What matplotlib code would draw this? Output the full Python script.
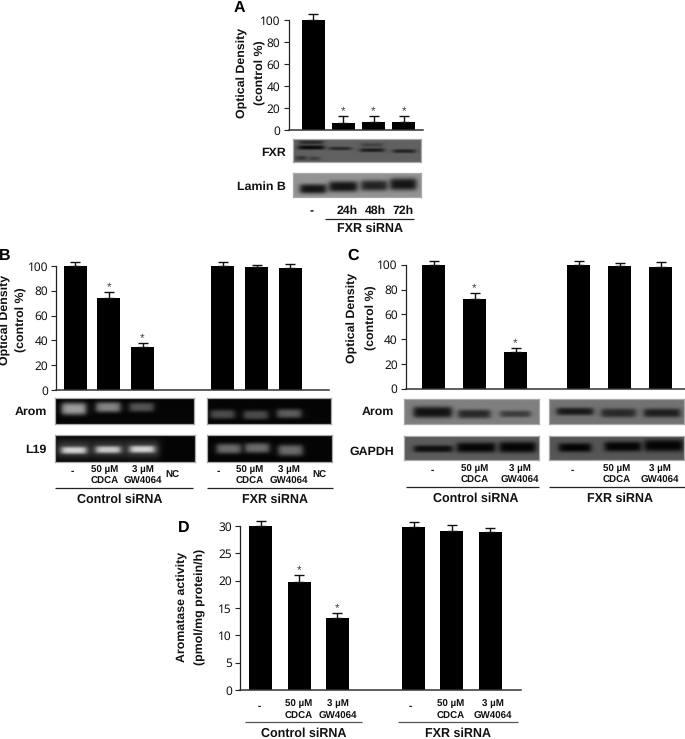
import matplotlib
matplotlib.use("Agg")
import matplotlib.pyplot as plt
import numpy as np

plt.rcParams['text.hinting'] = 'no_hinting'

W, H = 685, 739

# chart values
a_labels = ['-', '24h', '48h', '72h']
a_values = [100, 6.5, 7, 7.5]
a_errors = [5.5, 6.5, 6, 5.5]
a_stars = [False, True, True, True]

b_values = [100, 74, 35, 100, 99, 98]
b_errors = [3, 5, 3, 3, 2, 4]
b_stars = [False, True, True, False, False, False]

c_values = [100, 72, 30, 100, 99, 98]
c_errors = [3, 5, 3, 3, 2, 4]
c_stars = [False, True, True, False, False, False]

d_values = [30, 19.8, 13.2, 29.8, 29, 28.9]
d_errors = [1, 1.2, 0.9, 1, 1.2, 0.7]
d_stars = [False, True, True, False, False, False]

od_ticks = [0, 20, 40, 60, 80, 100]
d_ticks = [0, 5, 10, 15, 20, 25, 30]

# bands of the blots: centre x, centre y, half width, half height, grey level
fxr_bands = [(311, 147.7, 13, 1.6, 0.05), (311, 142.7, 12, 1.5, 0.17), (301, 158, 5, 1.6, 0.2),
             (314, 158.5, 5, 1.4, 0.24), (340, 148.7, 11, 1.2, 0.17), (372, 150.3, 12, 1.4, 0.12),
             (372, 145.3, 11, 1.5, 0.27), (404, 151.3, 11, 1.3, 0.14)]
lamin_bands = [(313, 189.3, 13, 4.2, 0.08), (343, 187, 14, 4.8, 0.08), (374, 186, 13, 4.8, 0.14), (403, 184.7, 13, 5.5, 0.08)]
b_arom1 = [(74, 409.3, 12, 5.5, 0.62), (108.3, 407.7, 12, 4.5, 0.52), (141.7, 407.7, 12, 4, 0.33)]
b_arom2 = [(222, 414, 12, 4, 0.3), (255, 414.7, 12, 4, 0.3), (288.3, 413.3, 12, 4, 0.36)]
b_l191 = [(74, 449, 17, 9, 0.22), (108.3, 449, 17, 9, 0.2), (142.3, 449, 17, 9, 0.22),
          (74, 450.3, 12, 3, 0.82), (108.3, 449.7, 12, 3, 0.78), (142.3, 449.3, 12, 3, 0.82)]
b_l192 = [(228.3, 448.7, 12, 4.5, 0.42), (256.7, 448, 12, 4.5, 0.42), (290, 450.3, 12, 5, 0.42)]
c_arom1 = [(432.7, 412, 19, 5, 0.07), (474, 413.7, 16, 3.8, 0.16), (515, 413.7, 15, 2.8, 0.24)]
c_arom2 = [(575, 411.3, 18, 3.2, 0.1), (618.3, 412.7, 17, 3.8, 0.16), (661.7, 412.7, 18, 3.8, 0.12)]
c_gapdh1 = [(433.3, 449.3, 19, 3, 0.06), (476, 448, 19, 4.5, 0.02), (517.3, 447.7, 18, 5, 0.02)]
c_gapdh2 = [(575, 448, 16, 4, 0.02), (622.7, 447, 18, 4.5, 0.02), (663.3, 446, 19, 5.5, 0.02)]


def px_axes(x0, y0, x1, y1):
    return fig.add_axes([x0 / W, 1 - y1 / H, (x1 - x0) / W, (y1 - y0) / H])


def bar_panel(spine_x, right_x, y_zero, y_full, full, top, x_first, step, group_gap, values, errors, stars, ticks):
    # group_gap is where the second group starts, in bar steps
    y_top = y_zero - (y_zero - y_full) * top / full
    ax = px_axes(spine_x, y_top, right_x, y_zero)
    if group_gap is None:
        pos = list(range(len(values)))
    else:
        pos = [i if i < 3 else group_gap + i - 3 for i in range(len(values))]
    ax.bar(pos, values, width=23 / step, color='black')
    ax.errorbar(pos, values, yerr=[[0] * len(values), errors], fmt='none', ecolor='#111111',
                elinewidth=1, capsize=3.3, capthick=1)
    for p, v, e, s in zip(pos, values, errors, stars):
        if s:
            ax.annotate('*', (p, v + e), xytext=(0, -1), textcoords='offset points', ha='center', va='bottom',
                        fontsize=8.5, color='#444444', family='Liberation Sans')
    ax.set_xlim((spine_x - x_first) / step, (right_x - x_first) / step)
    ax.set_ylim(0, top)
    ax.set_xticks([])
    ax.set_yticks(ticks)
    ax.tick_params(axis='y', length=3.6, width=0.8, color='#222222', pad=2.2, labelsize=8.6, labelcolor='#111111')
    for label in ax.get_yticklabels():
        label.set_family('Noto Sans')
    ax.spines['top'].set_visible(False)
    ax.spines['right'].set_visible(False)
    ax.spines['left'].set_linewidth(0.9)
    ax.spines['left'].set_color('#222222')
    ax.spines['left'].set_bounds(0, ticks[-1])
    ax.spines['bottom'].set_linewidth(1.1)
    ax.spines['bottom'].set_color('#333333')
    ax.patch.set_alpha(0)
    return ax


def blot(x0, y0, x1, y1, background, bands, frame='#aaaaaa'):
    xs, ys = np.meshgrid(np.arange(x0, x1, 0.5), np.arange(y0, y1, 0.5))
    img = np.full(xs.shape, float(background))
    for cx, cy, hw, hh, level in bands:
        across = 1 / (1 + np.exp((np.abs(xs - cx) - hw) / 1.6))
        down = np.exp(-(np.abs(ys - cy) / (hh + 0.6)) ** 3)
        mask = across * down
        img = img + (level - img) * mask
    ax = px_axes(x0, y0, x1, y1)
    ax.imshow(img, cmap='gray', vmin=0, vmax=1, aspect='auto', interpolation='bilinear')
    ax.set_xticks([])
    ax.set_yticks([])
    for s in ax.spines.values():
        s.set_color(frame)
        s.set_linewidth(0.9)


fig = plt.figure(figsize=(W / 100, H / 100), dpi=100)

# top level bar panels
bar_panel(288.5, 423, 130, 20, 100, 112, 313, 30.3, None, a_values, a_errors, a_stars, od_ticks)
bar_panel(56, 329, 390, 266, 100, 112, 75.2, 33.7, 4.38, b_values, b_errors, b_stars, od_ticks)
bar_panel(405.7, 685, 388.7, 264.7, 100, 112, 433.5, 41, 3.54, c_values, c_errors, c_stars, od_ticks)
bar_panel(240, 520.7, 690, 526, 30, 33, 260.8, 38.2, 4, d_values, d_errors, d_stars, d_ticks)

# blots
blot(293, 138.7, 420.7, 162, 0.38, fxr_bands)
blot(293, 172.7, 420.7, 197.3, 0.58, lamin_bands)
blot(55.3, 398, 194.3, 424.3, 0.02, b_arom1)
blot(206.7, 398, 331, 423.7, 0.02, b_arom2)
blot(55.3, 435.3, 195, 462.3, 0.02, b_l191)
blot(206.7, 435.3, 331.7, 462, 0.02, b_l192)
blot(404.3, 399.3, 538.7, 423.7, 0.5, c_arom1)
blot(549.3, 399.3, 683.7, 423.7, 0.45, c_arom2)
blot(404.3, 435.7, 538.7, 460.3, 0.36, c_gapdh1)
blot(549.3, 435.7, 683.7, 460.3, 0.34, c_gapdh2)

# overlay in picture pixels for all the loose labels
top = fig.add_axes([0, 0, 1, 1])
top.set_xlim(0, W)
top.set_ylim(H, 0)
top.axis('off')


def bold(x, y, s, size=8.9, ha='center', rotation=0, color='#111111'):
    top.text(x, y, s, ha=ha, va='center', fontsize=size, fontweight='bold', family='Liberation Sans',
             rotation=rotation, color=color)


def underline(x0, x1, y, color='#222222'):
    top.plot([x0, x1], [y, y], color=color, lw=0.9, solid_capstyle='butt')


for x, y, s in [(239.5, 7.5, 'A'), (5, 256, 'B'), (353.3, 256, 'C'), (183.3, 527.7, 'D')]:
    bold(x, y, s, size=11.5, color='black')

for x1, x2, y, l1, l2 in [(242.7, 260.7, 73, 'Optical Density', '(control %)'),
                          (5.5, 21, 320, 'Optical Density', '(control %)'),
                          (352.7, 371, 318, 'Optical Density', '(control %)'),
                          (182.7, 200.7, 606.7, 'Aromatase activity', '(pmol/mg protein/h)')]:
    bold(x1, y, l1, rotation=90)
    bold(x2, y, l2, rotation=90)

# panel A labels
bold(285.7, 153, 'FXR', ha='right')
bold(285.7, 187, 'Lamin B', ha='right')
for x, s in zip([311.7, 346.7, 375.7, 402.7], a_labels):
    bold(x, 211, s, size=8.8)
underline(325, 414, 219.3)
bold(370, 228.3, 'FXR siRNA', size=9)

# panels B, C, D treatment labels
treat_size = 7


def treatments(xs, y_dash, y1, y2):
    bold(xs[0], y_dash, '-', size=treat_size)
    bold(xs[1], y1, '50 µM', size=treat_size)
    bold(xs[1], y2, 'CDCA', size=treat_size)
    bold(xs[2], y1, '3 µM', size=treat_size)
    bold(xs[2], y2, 'GW4064', size=treat_size)


bold(46.7, 412, 'Arom', ha='right')
bold(46.7, 449.3, 'L19', ha='right')
treatments([72.7, 104.3, 143.3], 471.7, 470.7, 481.7)
treatments([218.7, 249.3, 289], 471.7, 470.7, 481.7)
bold(172.7, 475, 'NC', size=treat_size)
bold(319, 475, 'NC', size=treat_size)
underline(55, 193, 488.3)
underline(206.7, 332.7, 488.3)
bold(120, 500, 'Control siRNA', size=9)
bold(275.3, 500, 'FXR siRNA', size=9)

bold(394, 411.7, 'Arom', ha='right')
bold(394, 451.7, 'GAPDH', ha='right')
treatments([432.3, 475, 520], 470.7, 469.3, 480.7)
treatments([572.3, 616.7, 660], 470.7, 469.3, 480.7)
underline(406, 539.3, 487.3)
underline(549.3, 685, 487.3)
bold(475.7, 498.3, 'Control siRNA', size=9)
bold(620, 498.3, 'FXR siRNA', size=9)

treatments([259.3, 298.3, 337.7], 706, 704.3, 716)
treatments([410.7, 451, 493.3], 706, 704.3, 716)
underline(245, 361.7, 722.3, '#555555')
underline(398.3, 517.7, 722.3, '#555555')
bold(304, 733.3, 'Control siRNA', size=9)
bold(458.3, 733.3, 'FXR siRNA', size=9)

fig.savefig('out.png', dpi=100)
